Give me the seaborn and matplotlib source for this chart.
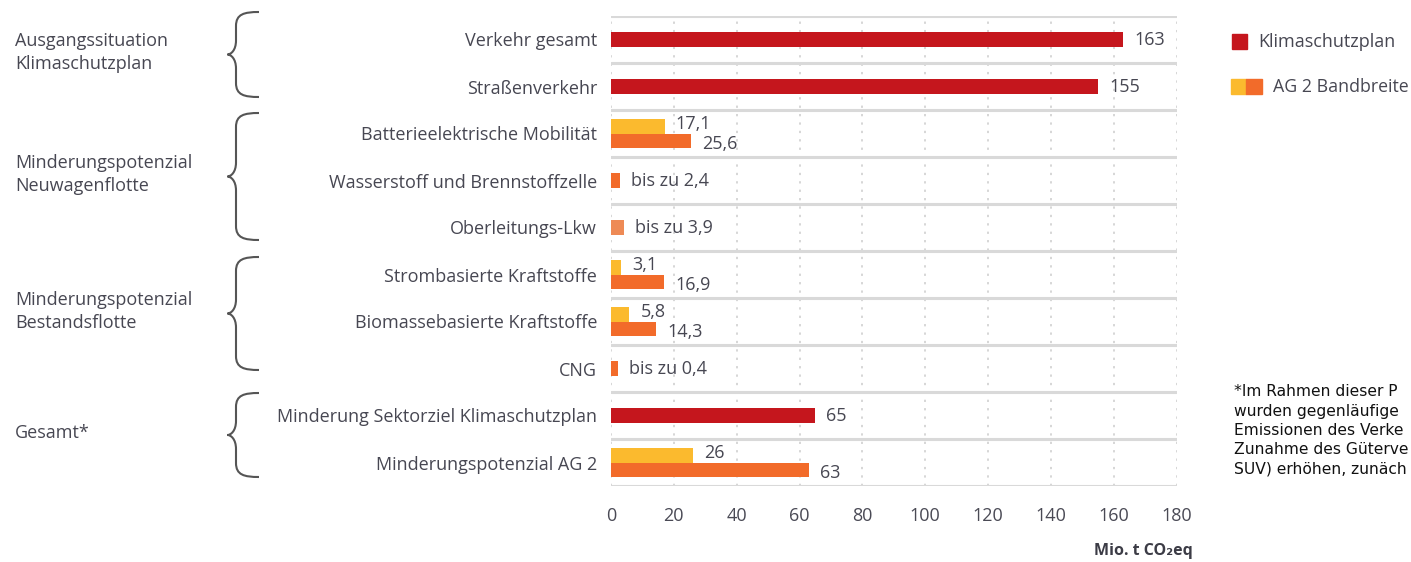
import numpy as np
import pandas as pd
import matplotlib
matplotlib.use("Agg")
import matplotlib.pyplot as plt
import seaborn as sns
from matplotlib.patches import Rectangle, PathPatch
from matplotlib.path import Path

# ---------------- data ----------------
categories = [
    "Verkehr gesamt",
    "Straßenverkehr",
    "Batterieelektrische Mobilität",
    "Wasserstoff und Brennstoffzelle",
    "Oberleitungs-Lkw",
    "Strombasierte Kraftstoffe",
    "Biomassebasierte Kraftstoffe",
    "CNG",
    "Minderung Sektorziel Klimaschutzplan",
    "Minderungspotenzial AG 2",
]

# Klimaschutzplan (single red bars)
ksp_categories = ["Verkehr gesamt", "Straßenverkehr", "Minderung Sektorziel Klimaschutzplan"]
ksp_values = [163, 155, 65]

# "bis zu" rows: labelled upper bounds and the bar lengths as drawn in the picture
upto_categories = ["Wasserstoff und Brennstoffzelle", "Oberleitungs-Lkw", "CNG"]
upto_values = [2.4, 3.9, 0.4]
upto_bar_lengths = [2.9, 4.2, 2.3]
upto_kind = ["orange", "lightorange", "orange"]

# AG 2 Bandbreite (low / high)
band_categories = ["Batterieelektrische Mobilität", "Strombasierte Kraftstoffe",
                   "Biomassebasierte Kraftstoffe", "Minderungspotenzial AG 2"]
band_low = [17.1, 3.1, 5.8, 26]
band_high = [25.6, 16.9, 14.3, 63]

group_labels = ["Ausgangssituation\nKlimaschutzplan", "Minderungspotenzial\nNeuwagenflotte",
                "Minderungspotenzial\nBestandsflotte", "Gesamt*"]

legend_labels = ["Klimaschutzplan", "AG 2 Bandbreite"]
footnote_lines = ["*Im Rahmen dieser P", "wurden gegenläufige", "Emissionen des Verke",
                  "Zunahme des Güterve", "SUV) erhöhen, zunäch"]
xticks = list(range(0, 181, 20))
xlabel = "Mio. t CO₂eq"

# ---------------- style ----------------
RED = "#C5161D"
YELLOW = "#FBBA2E"
ORANGE = "#F26B2A"
LIGHTORANGE = "#EE8A55"
TXT = "#474752"
palette_single = {"red": RED, "orange": ORANGE, "lightorange": LIGHTORANGE}

sns.set_theme(style="white")
plt.rcParams["font.family"] = ["Open Sans", "DejaVu Sans"]

W, H = 1411, 562
def fx(x): return x / W
def fy(y): return 1 - y / H

fig = plt.figure(figsize=(W / 100, H / 100), dpi=100)
ax = fig.add_axes([fx(611), fy(486), fx(1176.5) - fx(611), fy(16) - fy(486)])

df_single = pd.DataFrame({
    "category": ksp_categories + upto_categories,
    "value": ksp_values + upto_bar_lengths,
    "kind": ["red"] * len(ksp_values) + upto_kind,
})
df_band = pd.DataFrame({
    "category": band_categories * 2,
    "value": band_low + band_high,
    "level": ["low"] * len(band_low) + ["high"] * len(band_high),
})

sns.barplot(data=df_single, x="value", y="category", hue="kind", palette=palette_single,
            order=categories, dodge=False, width=0.32, saturation=1, legend=False,
            orient="h", linewidth=0, ax=ax, zorder=3)
sns.barplot(data=df_band, x="value", y="category", hue="level", hue_order=["low", "high"],
            palette={"low": YELLOW, "high": ORANGE}, order=categories, dodge=True,
            width=0.62, saturation=1, legend=False, orient="h", linewidth=0, ax=ax, zorder=3)

ax.set_xlim(0, 180)
ax.set_ylim(len(categories) - 0.5, -0.5)
for x in xticks:
    ax.axvline(x, color="#cccccc", lw=1.1, ls=(0, (1.5, 4)), zorder=0)
for y in np.arange(-0.5, len(categories), 1.0):
    ax.axhline(y, color="#d9d9d9", lw=2.2, zorder=1)
sns.despine(ax=ax, left=True, bottom=True)
ax.set_xticks(xticks)
ax.set_xlabel("")
ax.set_ylabel("")
ax.tick_params(axis="y", length=0, pad=10, labelsize=13, labelcolor=TXT)
ax.tick_params(axis="x", length=0, pad=15, labelsize=13, labelcolor="#4a4a55")

def fmt(v):
    return f"{v:g}".replace(".", ",")

lab_kw = dict(textcoords="offset points", va="center", ha="left", fontsize=13, color=TXT, zorder=4)
for c, v in zip(ksp_categories, ksp_values):
    ax.annotate(fmt(v), xy=(v, categories.index(c)), xytext=(8, -0.5), **lab_kw)
for c, v, b in zip(upto_categories, upto_values, upto_bar_lengths):
    ax.annotate("bis zu " + fmt(v), xy=(b, categories.index(c)), xytext=(7.5, -0.5), **lab_kw)
for c, lo, hi in zip(band_categories, band_low, band_high):
    i = categories.index(c)
    ax.annotate(fmt(lo), xy=(lo, i - 0.155), xytext=(8, 1.5), **lab_kw)
    ax.annotate(fmt(hi), xy=(hi, i + 0.155), xytext=(8, -2.5), **lab_kw)

# x axis label
fig.text(fx(1193), fy(551), xlabel, ha="right", va="center", fontsize=11.5,
         fontweight="bold", color="#3c3c46")

# ---------------- braces + group labels ----------------
brace_spans = [(12, 97), (113, 240), (257, 370), (393, 477)]
XE, XV, XT = 259, 236, 227.5

def brace(y0, y1):
    ym = (y0 + y1) / 2
    r = 14
    pts = [
        (XE, y0),
        (XV + 0.35 * (XE - XV), y0), (XV, y0 + 0.15 * r), (XV, y0 + r),
        (XV, ym - r),
        (XV, ym - 0.3 * r), (XT + 0.4 * (XV - XT), ym), (XT, ym),
        (XT + 0.4 * (XV - XT), ym), (XV, ym + 0.3 * r), (XV, ym + r),
        (XV, y1 - r),
        (XV, y1 - 0.15 * r), (XV + 0.35 * (XE - XV), y1), (XE, y1),
    ]
    codes = [Path.MOVETO, Path.CURVE4, Path.CURVE4, Path.CURVE4, Path.LINETO,
             Path.CURVE4, Path.CURVE4, Path.CURVE4, Path.CURVE4, Path.CURVE4, Path.CURVE4,
             Path.LINETO, Path.CURVE4, Path.CURVE4, Path.CURVE4]
    verts = [(fx(x), fy(y)) for x, y in pts]
    fig.add_artist(PathPatch(Path(verts, codes), facecolor="none", edgecolor="#555555",
                             lw=1.5, transform=fig.transFigure))

for (y0, y1), lab in zip(brace_spans, group_labels):
    brace(y0, y1)
    fig.text(fx(15), fy((y0 + y1) / 2 - 2), lab, ha="left", va="center", fontsize=13,
             color=TXT, linespacing=1.35)

# ---------------- legend ----------------
fig.add_artist(Rectangle((fx(1232), fy(49)), fx(15), fy(34) - fy(49), color=RED,
                         transform=fig.transFigure))
fig.text(fx(1258), fy(42), legend_labels[0], ha="left", va="center", fontsize=13, color=TXT)
fig.add_artist(Rectangle((fx(1231), fy(94)), fx(15), fy(79) - fy(94), color=YELLOW,
                         transform=fig.transFigure))
fig.add_artist(Rectangle((fx(1246), fy(94)), fx(15.5), fy(79) - fy(94), color=ORANGE,
                         transform=fig.transFigure))
fig.text(fx(1273), fy(87), legend_labels[1], ha="left", va="center", fontsize=12.8, color=TXT)

# ---------------- footnote ----------------
for k, line in enumerate(footnote_lines):
    fig.text(fx(1234), fy(392 + 19.3 * k), line, ha="left", va="center", fontsize=11.2,
             color="#111111", family=["DejaVu Sans"])

fig.savefig("out.png", dpi=100)
